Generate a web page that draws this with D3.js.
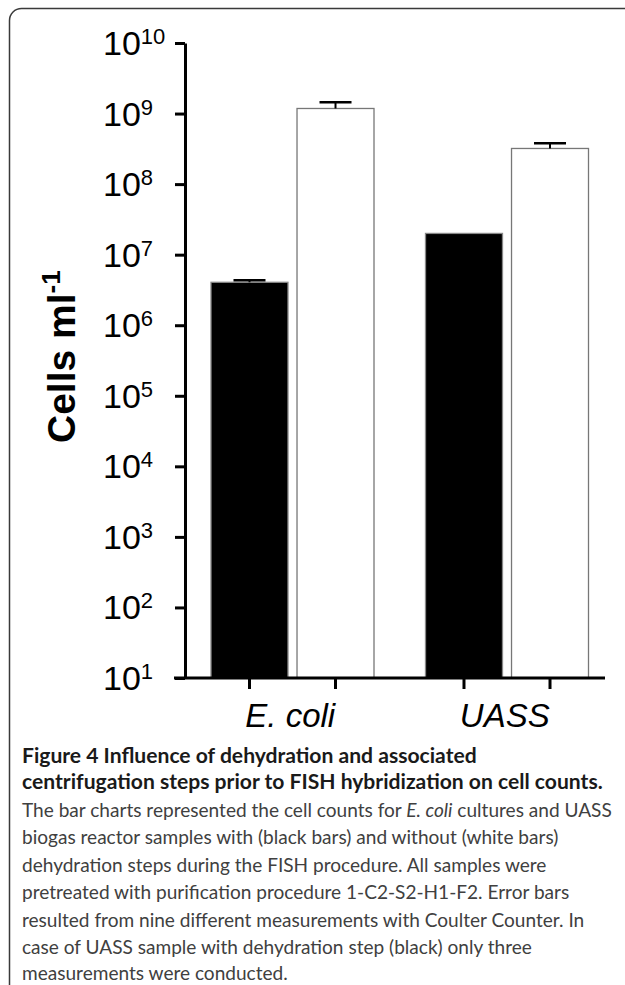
<!DOCTYPE html>
<html>
<head>
<meta charset="utf-8">
<title>Figure 4</title>
<style>
  body { margin: 0; background: #fff; }
  svg { display: block; }
</style>
</head>
<body>
<div id="chart"></div>
<script src="https://d3js.org/d3.v7.min.js"></script>
<script>
// data
const categories = ["E. coli", "UASS"];
const series = ["with dehydration", "without dehydration"];
const withDehydration = [4.06e6, 2.0e7];
const withoutDehydration = [1.18e9, 3.2e8];
// upper end of the error bars (null = no error bar drawn)
const errWith = [4.35e6, null];
const errWithout = [1.45e9, 3.8e8];
const tickExponents = [1, 2, 3, 4, 5, 6, 7, 8, 9, 10];

const captionLines = [
  [{ t: "Figure 4 Influence of dehydration and associated", b: true }],
  [{ t: "centrifugation steps prior to FISH hybridization on cell counts.", b: true }],
  [{ t: "The bar charts represented the cell counts for " }, { t: "E. coli", i: true }, { t: " cultures and UASS" }],
  [{ t: "biogas reactor samples with (black bars) and without (white bars)" }],
  [{ t: "dehydration steps during the FISH procedure. All samples were" }],
  [{ t: "pretreated with purification procedure 1-C2-S2-H1-F2. Error bars" }],
  [{ t: "resulted from nine different measurements with Coulter Counter. In" }],
  [{ t: "case of UASS sample with dehydration step (black) only three" }],
  [{ t: "measurements were conducted." }]
];

const W = 625, H = 985;
const svg = d3.select("#chart").append("svg")
  .attr("width", W).attr("height", H);

// panel frame
svg.append("rect")
  .attr("x", 9.5).attr("y", 8.5)
  .attr("width", 700).attr("height", 1000)
  .attr("rx", 12)
  .attr("fill", "none")
  .attr("stroke", "#3a3a3a")
  .attr("stroke-width", 1.5);

const axisX = 185, baseY = 678, topY = 43;

const y = d3.scaleLog().domain([1e1, 1e10]).range([baseY, topY]);
const x0 = d3.scaleBand().domain(categories).range([185, 614]);
const x1 = d3.scaleBand().domain(series).range([26, 189]).paddingInner(0.105);

const rows = categories.map((c, i) => ({
  cat: c,
  vals: [
    { s: series[0], v: withDehydration[i], e: errWith[i], fill: "#000", stroke: "#888" },
    { s: series[1], v: withoutDehydration[i], e: errWithout[i], fill: "#fff", stroke: "#777" }
  ]
}));

const groups = svg.append("g").selectAll("g")
  .data(rows).join("g")
  .attr("transform", d => `translate(${x0(d.cat)},0)`);

groups.selectAll("rect")
  .data(d => d.vals).join("rect")
  .attr("x", d => x1(d.s))
  .attr("width", x1.bandwidth())
  .attr("y", d => y(d.v))
  .attr("height", d => baseY - y(d.v))
  .attr("fill", d => d.fill)
  .attr("stroke", d => d.stroke)
  .attr("stroke-width", 1.3);

// error bars (upper only)
const eb = groups.selectAll("g.err")
  .data(d => d.vals.filter(v => v.e != null)).join("g")
  .attr("class", "err")
  .attr("stroke", "#000");
eb.append("line")
  .attr("x1", d => x1(d.s) + x1.bandwidth() / 2)
  .attr("x2", d => x1(d.s) + x1.bandwidth() / 2)
  .attr("y1", d => y(d.v))
  .attr("y2", d => y(d.e))
  .attr("stroke-width", 2);
eb.append("line")
  .attr("x1", d => x1(d.s) + x1.bandwidth() / 2 - 16)
  .attr("x2", d => x1(d.s) + x1.bandwidth() / 2 + 16)
  .attr("y1", d => y(d.e))
  .attr("y2", d => y(d.e))
  .attr("stroke-width", 2.5);

// y axis
const yAxis = svg.append("g")
  .attr("transform", `translate(${axisX},0)`)
  .call(d3.axisLeft(y).tickValues(tickExponents.map(e => Math.pow(10, e)))
    .tickSize(10).tickSizeOuter(0).tickFormat(""));
yAxis.selectAll("path, line").attr("stroke", "#000").attr("stroke-width", 3);

const tickLabels = svg.append("g")
  .attr("font-family", "'Liberation Sans', Arial, sans-serif")
  .attr("fill", "#000");
tickExponents.forEach(e => {
  const t = tickLabels.append("text")
    .attr("x", 103)
    .attr("y", y(Math.pow(10, e)) + 12)
    .attr("font-size", 34);
  t.append("tspan").text("10");
  t.append("tspan").attr("font-size", 22).attr("dy", -11).text(e);
});

// x axis baseline and ticks
svg.append("line")
  .attr("x1", 174).attr("x2", 605)
  .attr("y1", baseY).attr("y2", baseY)
  .attr("stroke", "#000").attr("stroke-width", 3);
const tickPos = [];
categories.forEach(c => series.forEach(s => tickPos.push(x0(c) + x1(s) + x1.bandwidth() / 2)));
svg.append("g").selectAll("line")
  .data(tickPos).join("line")
  .attr("x1", d => d).attr("x2", d => d)
  .attr("y1", baseY).attr("y2", baseY + 11)
  .attr("stroke", "#000").attr("stroke-width", 3);

svg.append("g").selectAll("text")
  .data(categories).join("text")
  .attr("x", d => x0(d) + x0.bandwidth() / 2 - 2)
  .attr("y", 727)
  .attr("text-anchor", "middle")
  .attr("font-family", "'Liberation Sans', Arial, sans-serif")
  .attr("font-style", "italic")
  .attr("font-size", 33)
  .text(d => d);

// y axis title
const yTitle = svg.append("text")
  .attr("transform", "translate(75,443) rotate(-90)")
  .attr("font-family", "'Liberation Sans', Arial, sans-serif")
  .attr("font-weight", "bold")
  .attr("font-size", 39);
yTitle.append("tspan").text("Cells ml");
yTitle.append("tspan").attr("font-size", 26).attr("dy", -15).text("-1");

// caption
const capX = 22;
const cap = svg.append("g")
  .attr("font-family", "Lato, 'Open Sans', sans-serif")
  .attr("font-size", 19);
const lineY = [763, 789, 817, 844, 872, 899, 927, 954, 980];
const capTexts = captionLines.map((parts, i) => {
  const t = cap.append("text").attr("x", capX).attr("y", lineY[i])
    .attr("fill", parts[0].b ? "#1a1a1a" : "#404040");
  parts.forEach(p => {
    t.append("tspan")
      .attr("font-weight", p.b ? "bold" : null)
      .attr("font-style", p.i ? "italic" : null)
      .text(p.t);
  });
  return t;
});
// fit caption sizes: bold line 2 ends near x=603, regular line 3 near x=612
const boldSize = 19 * (603 - capX) / capTexts[1].node().getComputedTextLength();
const regSize = 19 * (612 - capX) / capTexts[2].node().getComputedTextLength();
capTexts.forEach((t, i) => t.attr("font-size", captionLines[i][0].b ? boldSize : regSize));
</script>
</body>
</html>
